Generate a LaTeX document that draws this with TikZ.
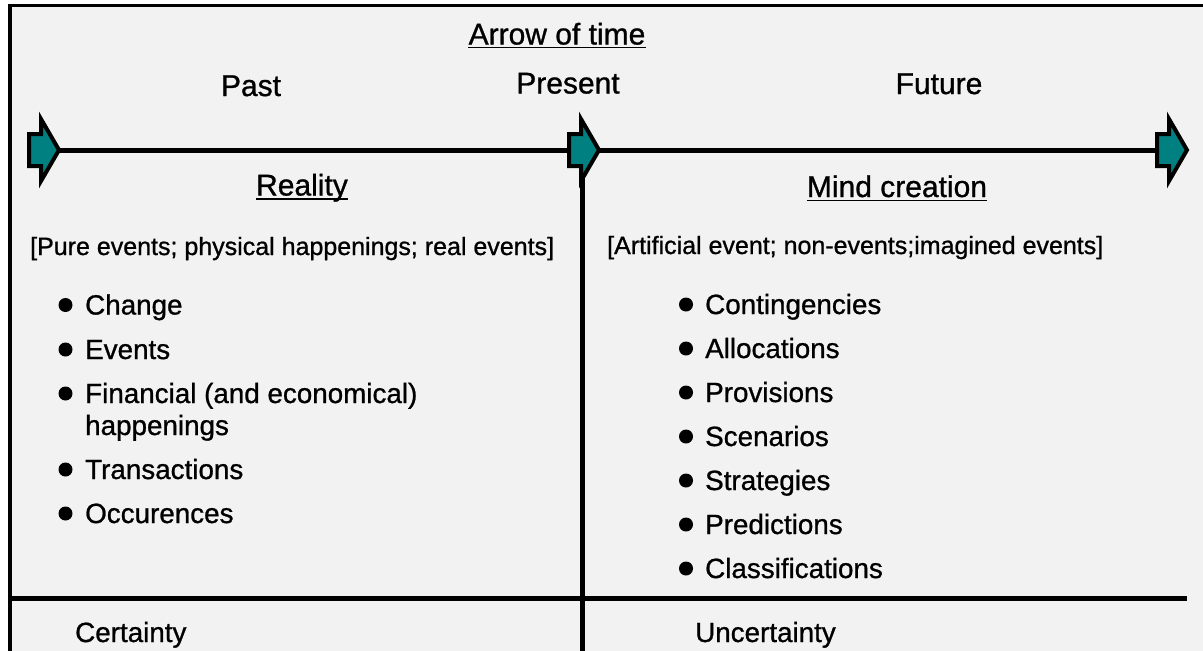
\documentclass[tikz,border=0pt]{standalone}
\usepackage{fontspec}
\setmainfont{Liberation Sans}[FakeBold=0.9]
\usetikzlibrary{calc}
\definecolor{panelbg}{HTML}{F2F2F2}
\definecolor{arrowteal}{HTML}{008080}
\tikzset{
  heading/.style={inner sep=0pt, anchor=base, font=\fontsize{30}{36}\selectfont},
  note/.style={inner sep=0pt, anchor=base west, font=\fontsize{25}{30}\selectfont},
  item/.style={inner sep=0pt, anchor=base west, font=\fontsize{27.8}{32}\selectfont},
  dot/.style={circle, fill=black, inner sep=0pt, minimum size=14pt},
  rule/.style={line width=5pt},
  uline/.style={line width=1.8pt},
  timearrow/.style={fill=arrowteal, draw=black, line width=4pt, line join=miter},
}
% one block arrow: stub rectangle followed by a triangular head
\newcommand{\blockarrow}[2]{%
  \coordinate (#2) at (#1,150);
  \draw[timearrow] ($(#2)+(0,-16)$) -- ++(12,0) -- ++(0,-15) -- ($(#2)+(30,0)$)
    -- ($(#2)+(12,31)$) -- ++(0,-15) -- ($(#2)+(0,16)$) -- cycle;
  \coordinate (#2-tip) at ($(#2)+(30,0)$);
}
\begin{document}
\begin{tikzpicture}[x=1pt,y=-1pt]
\useasboundingbox (0,0) rectangle (1203,651);
\fill[white] (0,0) rectangle (1203,651);
% panel and its frame
\fill[panelbg] (10,5.5) rectangle (1203,651);
\coordinate (frameTL) at (10,5.5);
\coordinate (frameBL) at (10,651);
\coordinate (frameTR) at (1203,5.5);
\draw[line width=3.5pt] (frameBL) -- (frameTL) -- (frameTR);

% time line, present divider and the lower split
\coordinate (lineStart) at (50,150);
\coordinate (lineEnd) at (1160,150);
\coordinate (presentTop) at (582.5,170);
\coordinate (presentFoot) at (582.5,651);
\coordinate (splitL) at (10,598.5);
\coordinate (splitR) at (1187,598.5);
\draw[rule] (lineStart) -- (lineEnd);
\draw[rule] (presentTop) -- (presentFoot);
\draw[rule] (splitL) -- (splitR);

\blockarrow{29}{pastArrow}
\blockarrow{569}{presentArrow}
\blockarrow{1157}{futureArrow}

% headings
\node[heading] (arrowTime) at (557,44.5) {Arrow of time};
\draw[uline] ($(arrowTime.base west)+(0,3)$) -- ($(arrowTime.base east)+(0,3)$);
\node[heading] (past) at (251,96) {Past};
\node[heading] (present) at (568,93.5) {Present};
\node[heading] (future) at (939,94) {Future};
\node[heading] (reality) at (302,195.5) {Reality};
\draw[uline] ($(reality.base west)+(0,3.5)$) -- ($(reality.base east)+(0,3.5)$);
\node[heading] (mind) at (897,197) {Mind creation};
\draw[uline] ($(mind.base west)+(0,3.5)$) -- ($(mind.base east)+(0,3.5)$);

% descriptions
\node[note] (realNote) at (30,255) {[Pure events; physical happenings; real events]};
\node[note] (mindNote) at (607,254) {[Artificial event; non-events;imagined events]};

% past items
\foreach \y/\t [count=\i] in {314.5/Change, 359/Events, 403/Financial (and economical), 479/Transactions, 523/Occurences}{
  \node[dot] (pastDot\i) at (65.5,\y-9.5) {};
  \node[item] (pastItem\i) at (85,\y) {\t};
}
\node[item] (pastItemWrap) at (85,435) {happenings};

% future items
\foreach \y/\t [count=\i] in {314/Contingencies, 358/Allocations, 402/Provisions, 446/Scenarios, 490/Strategies, 534/Predictions, 578/Classifications}{
  \node[dot] (futDot\i) at (686,\y-9.5) {};
  \node[item] (futItem\i) at (705,\y) {\t};
}

% bottom labels
\node[item] (certainty) at (75,642) {Certainty};
\node[item] (uncertainty) at (695,642) {Uncertainty};
\end{tikzpicture}
\end{document}
